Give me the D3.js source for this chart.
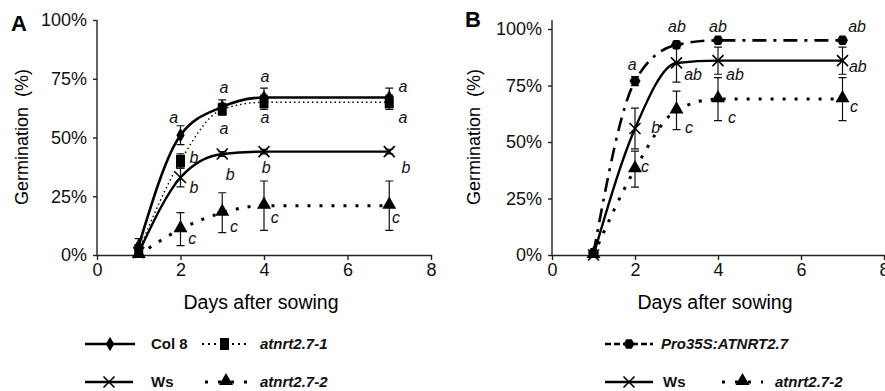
<!DOCTYPE html>
<html>
<head>
<meta charset="utf-8">
<script src="https://cdn.jsdelivr.net/npm/d3@7"></script>
<style>
  body { margin: 0; background: #fff; }
  svg { font-family: "Liberation Sans", Arial, sans-serif; }
  .axis path, .axis line { stroke: #222; stroke-width: 1.4; }
  .axis text { font-size: 18px; fill: #111; }
  .letter { font-size: 16px; font-style: italic; fill: #111; }
  .leg { font-size: 15px; font-weight: bold; fill: #111; }
</style>
</head>
<body>
<svg id="chart" width="885" height="391"></svg>
<script>
// days after sowing
const days = [1, 2, 3, 4, 7];
const yTicks = [0, 0.25, 0.5, 0.75, 1];
const xTicks = [0, 2, 4, 6, 8];

// panel A (% germination, error = +/-)
const col8 = [4, 51, 63, 67, 67];
const col8Err = [3, 4, 3, 4, 4];
const nrt1 = [2, 40, 62, 65, 65];
const nrt1Err = [2, 3, 2.5, 3, 3];
const wsA = [1, 33, 43, 44, 44];
const wsAErr = [1, 4, 1, 1, 1];
const nrt2A = [0, 11, 18, 21, 21];
const nrt2AErr = [0, 7, 8.5, 10.5, 10.5];

// panel B
const pro35S = [1, 77, 93, 95, 95];
const pro35SErr = [1, 2, 1.5, 1, 1];
const wsB = [0, 56, 85, 86, 86];
const wsBErr = [0, 9, 8.5, 6, 6];
const nrt2B = [0, 38, 64, 69, 69];
const nrt2BErr = [0, 8, 8.5, 9.5, 9.5];

// significance letters [day, %, text]
const lettersA = [
  [1.84, 58.7, "a"], [3.04, 71.5, "a"], [4.02, 76.2, "a"], [7.33, 71.9, "a"],
  [3.04, 54, "a"], [4.02, 58.7, "a"], [7.33, 58.7, "a"],
  [2.32, 41.7, "b"], [2.32, 28.9, "b"], [3.19, 34.5, "b"], [4.05, 37.4, "b"], [7.4, 37.4, "b"],
  [2.28, 7.2, "c"], [3.28, 12.3, "c"], [4.26, 16.2, "c"], [7.16, 16.2, "c"]
];
const lettersB = [
  [1.93, 84.5, "a"], [3.01, 101.3, "ab"], [4.0, 101.3, "ab"], [7.35, 101.3, "ab"],
  [3.4, 80.1, "ab"], [4.41, 80.1, "ab"], [7.37, 83.6, "ab"],
  [2.5, 56.6, "b"],
  [2.24, 39.4, "c"], [3.3, 56.6, "c"], [4.34, 61.1, "c"], [7.28, 65.9, "c"]
];

const svg = d3.select("#chart");

const styles = {
  col8: { width: 2.6, dash: null, marker: "diamond" },
  nrt1: { width: 1.4, dash: "1.5,3", marker: "square" },
  ws: { width: 2.4, dash: null, marker: "x" },
  nrt2: { width: 3, dash: "3,9", marker: "triangle" },
  pro: { width: 2.6, dash: "14,7,3,7", marker: "hex" }
};

function drawMarker(g, type, cx, cy) {
  if (type === "diamond") {
    g.append("path").attr("d", d3.symbol(d3.symbolDiamond, 60)())
      .attr("transform", `translate(${cx},${cy})`).attr("fill", "#000");
  } else if (type === "square") {
    g.append("rect").attr("x", cx - 4.5).attr("y", cy - 6).attr("width", 9).attr("height", 12).attr("fill", "#000");
  } else if (type === "triangle") {
    g.append("path").attr("d", d3.symbol(d3.symbolTriangle, 85)())
      .attr("transform", `translate(${cx},${cy - 1})`).attr("fill", "#000");
  } else if (type === "hex") {
    const r = 5.5;
    const pts = d3.range(6).map(i => [cx + r * Math.cos(Math.PI / 3 * i), cy + r * Math.sin(Math.PI / 3 * i)]);
    g.append("polygon").attr("points", pts.join(" ")).attr("fill", "#000");
  } else if (type === "x") {
    const s = 5.5;
    g.append("path").attr("d", `M${cx - s},${cy - s}L${cx + s},${cy + s}M${cx - s},${cy + s}L${cx + s},${cy - s}`)
      .attr("stroke", "#000").attr("stroke-width", 1.6).attr("fill", "none");
  }
}

function panel(opts) {
  const x = d3.scaleLinear().domain([0, 8]).range(opts.xr);
  const y = d3.scaleLinear().domain(opts.yd).range([255, 20]);
  const g = svg.append("g");

  g.append("g").attr("class", "axis")
    .attr("transform", `translate(${opts.xr[0]},0)`)
    .call(d3.axisLeft(y).tickValues(yTicks).tickFormat(d3.format(".0%")).tickSize(4).tickSizeOuter(0).tickPadding(6))
    .call(a => a.select(".domain").attr("d", `M0,${y.range()[0]}V${y.range()[1]}`));

  g.append("g").attr("class", "axis")
    .attr("transform", "translate(0,255)")
    .call(d3.axisBottom(x).tickValues(xTicks).tickSize(5).tickSizeOuter(0).tickPadding(3));

  g.append("text").attr("x", (opts.xr[0] + opts.xr[1]) / 2 - 3).attr("y", 309)
    .attr("text-anchor", "middle").attr("font-size", 19.5).text("Days after sowing");
  g.append("text").attr("transform", `translate(${opts.ytx},137) rotate(-90)`)
    .attr("text-anchor", "middle").attr("font-size", 18).attr("xml:space", "preserve")
    .text("Germination  (%)");
  g.append("text").attr("x", opts.lx).attr("y", opts.ly).attr("font-size", 22)
    .attr("font-weight", "bold").text(opts.label);

  const line = d3.line().x((d, i) => x(days[i])).y(d => y(d / 100)).curve(d3.curveMonotoneX);

  // error bars
  opts.series.forEach(s => {
    s.values.forEach((v, i) => {
      const e = s.err[i];
      if (!e) return;
      const cx = x(days[i]);
      const y0 = y((v - e) / 100), y1 = y((v + e) / 100);
      g.append("path").attr("d", `M${cx},${y0}V${y1}M${cx - 4},${y0}H${cx + 4}M${cx - 4},${y1}H${cx + 4}`)
        .attr("stroke", "#111").attr("stroke-width", 1.2).attr("fill", "none");
    });
  });

  opts.series.forEach(s => {
    const st = styles[s.style];
    g.append("path").datum(s.values).attr("d", line)
      .attr("fill", "none").attr("stroke", "#000").attr("stroke-width", st.width)
      .attr("stroke-dasharray", st.dash);
  });

  opts.series.forEach(s => {
    s.values.forEach((v, i) => drawMarker(g, styles[s.style].marker, x(days[i]), y(v / 100)));
  });

  g.selectAll(".letter").data(opts.letters).join("text")
    .attr("class", "letter")
    .attr("x", d => x(d[0])).attr("y", d => y(d[1] / 100))
    .attr("dy", "0.35em").attr("text-anchor", "middle").text(d => d[2]);
}

panel({
  xr: [97, 431], yd: [0, 1], ytx: 28, lx: 11, ly: 31, label: "A",
  series: [
    { values: nrt2A, err: nrt2AErr, style: "nrt2" },
    { values: wsA, err: wsAErr, style: "ws" },
    { values: nrt1, err: nrt1Err, style: "nrt1" },
    { values: col8, err: col8Err, style: "col8" }
  ],
  letters: lettersA
});

panel({
  xr: [552, 884], yd: [0, 1.04], ytx: 480, lx: 465, ly: 27, label: "B",
  series: [
    { values: nrt2B, err: nrt2BErr, style: "nrt2" },
    { values: wsB, err: wsBErr, style: "ws" },
    { values: pro35S, err: pro35SErr, style: "pro" }
  ],
  letters: lettersB
});

// legends
const legendItems = [
  { x0: 85, x1: 135, y: 344, style: "col8", text: "Col 8", tx: 151, italic: false },
  { x0: 202, x1: 247, y: 344, style: "nrt1", text: "atnrt2.7-1", tx: 260, italic: true },
  { x0: 85, x1: 133, y: 382, style: "ws", text: "Ws", tx: 151, italic: false },
  { x0: 205, x1: 247, y: 382, style: "nrt2", text: "atnrt2.7-2", tx: 260, italic: true },
  { x0: 605, x1: 653, y: 344, style: "pro", text: "Pro35S:ATNRT2.7", tx: 661, italic: true },
  { x0: 605, x1: 653, y: 382, style: "ws", text: "Ws", tx: 663, italic: false },
  { x0: 722, x1: 763, y: 382, style: "nrt2", text: "atnrt2.7-2", tx: 775, italic: true }
];
const legDash = { col8: null, ws: null, nrt1: "2,4", nrt2: "3,10", pro: "6,3" };
const lg = svg.append("g");
legendItems.forEach(d => {
  const st = styles[d.style];
  lg.append("line").attr("x1", d.x0).attr("x2", d.x1).attr("y1", d.y).attr("y2", d.y)
    .attr("stroke", "#000").attr("stroke-width", d.style === "nrt1" ? 2 : st.width)
    .attr("stroke-dasharray", legDash[d.style]);
  drawMarker(lg, st.marker, (d.x0 + d.x1) / 2, d.y);
  lg.append("text").attr("class", "leg").attr("x", d.tx).attr("y", d.y).attr("dy", "0.35em")
    .attr("font-style", d.italic ? "italic" : "normal").text(d.text);
});
</script>
</body>
</html>
